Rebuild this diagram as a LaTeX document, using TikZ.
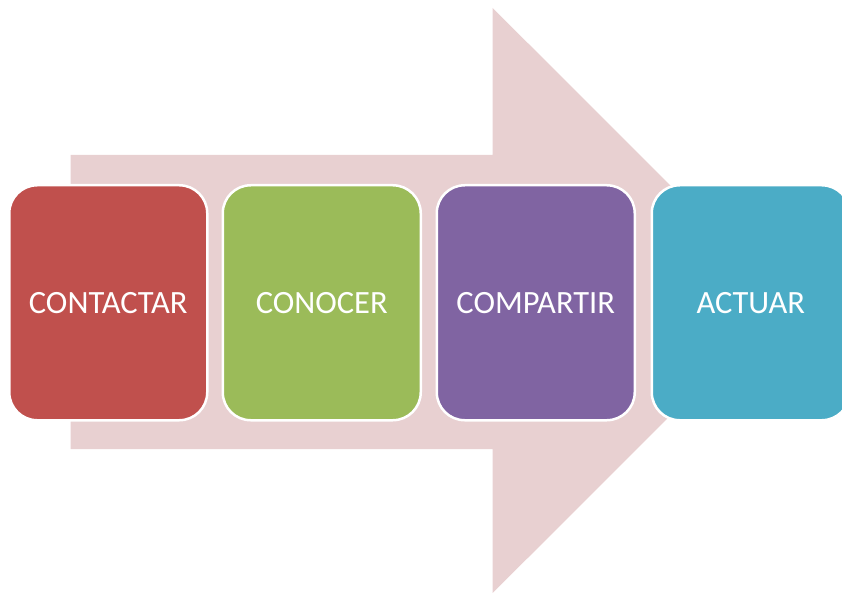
\documentclass[tikz,border=0pt]{standalone}
\usepackage{fontspec}
\setmainfont{Carlito}
\definecolor{arrowpink}{HTML}{E8D0D1}
\definecolor{cred}{HTML}{C0504D}
\definecolor{cgreen}{HTML}{9BBB59}
\definecolor{cpurple}{HTML}{8064A2}
\definecolor{cteal}{HTML}{4BACC6}
\tikzset{
  stagebox/.style={draw=white, line width=2.5pt, rounded corners=28pt, minimum width=198pt, minimum height=235pt, inner sep=0pt, text=white, font=\fontsize{32.5}{38}\selectfont, anchor=north west}
}
\begin{document}
\begin{tikzpicture}[x=1pt,y=-1pt]
\useasboundingbox (0,0) rectangle (842,593);
\begin{scope}
\clip (0,0) rectangle (842,593);
\fill[arrowpink] (70.7,155) -- (492.7,155) -- (492.7,8) -- (785.5,300.5) -- (492.7,593) -- (492.7,449) -- (70.7,449) -- cycle;
\node[stagebox, fill=cred] (b1) at (8,184) {CONTACTAR};
\node[stagebox, fill=cgreen] (b2) at (221.5,184) {CONOCER};
\node[stagebox, fill=cpurple] (b3) at (435.5,184) {COMPARTIR};
\node[stagebox, fill=cteal] (b4) at (650.5,184) {ACTUAR};
\end{scope}
\end{tikzpicture}
\end{document}
